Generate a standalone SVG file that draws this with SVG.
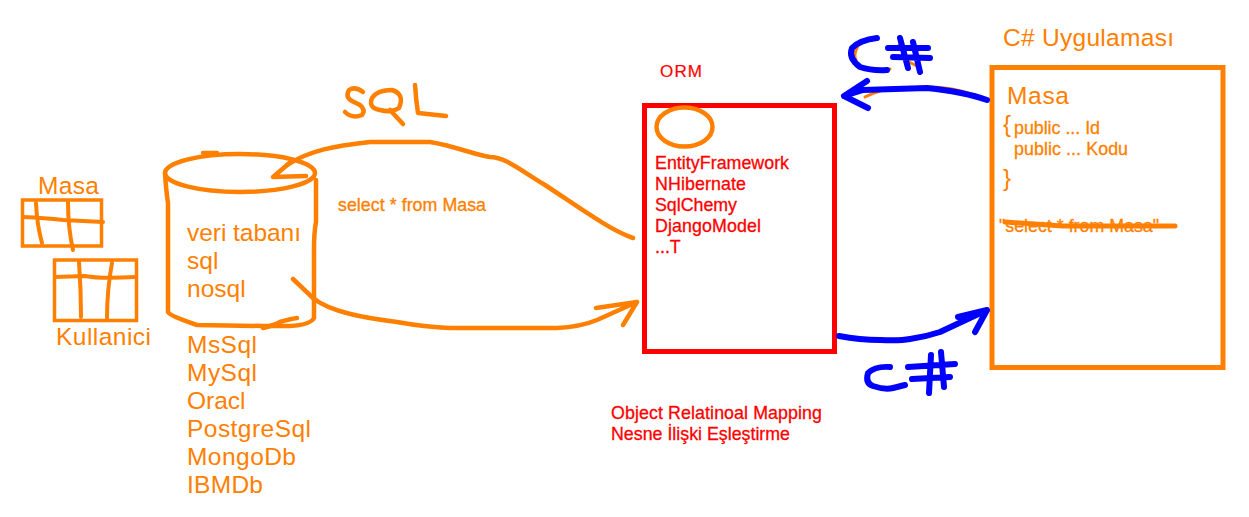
<svg xmlns="http://www.w3.org/2000/svg" width="1249" height="517" viewBox="0 0 1249 517">
<style>
text{font-family:"Liberation Sans",Arial,sans-serif}
.o{fill:#ff8000}.r{fill:#f00}
.l{font-size:24.500px}.s{font-size:17.800px;stroke-width:.3px}.s.o{stroke:#ff8000}.s.r{stroke:#f00}.m{font-size:17px;stroke:#f00;stroke-width:.2px}
.so,.sb{fill:none;stroke-linecap:round;stroke-linejoin:round}
.so{stroke:#ff8000}.sb{stroke:#00f;stroke-width:6}
.t{fill:none;stroke:#ff8000;stroke-width:3.500}
</style>
<rect width="1249" height="517" fill="#fff"/>
<g id="table-masa">
<text class="o l" x="38" y="194" textLength="61">Masa</text>
<rect class="t" x="22.500" y="200" width="79" height="46"/>
<path class="so" stroke-width="4" d="M23 217Q45 218 63 220L103 222M36 203Q37 225 42 243M68 202Q68 228 73 250"/>
</g>
<g id="table-kullanici">
<rect class="t" x="54.500" y="260" width="82" height="60.500"/>
<path class="so" stroke-width="4" d="M55 277L85 276Q100 279 135 277M79 262Q81 290 81 317M112 263Q107 290 107 318"/>
<text class="o l" x="56" y="345" textLength="95">Kullanici</text>
</g>
<g id="database">
<ellipse cx="240" cy="173" rx="75" ry="19" fill="none" stroke="#ff8000" stroke-width="4.500"/>
<path class="so" stroke-width="4.500" d="M203 153L217 153M165 173Q166 190 168 203L168 312Q170 316 197 325L263 326L290 326Q310 325 314 318L314 250Q314 232 316 222L316 180"/>
<path class="so" stroke-width="4.500" d="M263 328Q275 325 280 322Q290 319 297 318"/>
<text class="o l" x="187" y="241" textLength="114">veri tabanı</text>
<text class="o l" x="187" y="269">sql</text>
<text class="o l" x="187" y="297">nosql</text>
<text class="o l" x="187" y="353" textLength="70">MsSql</text>
<text class="o l" x="187" y="381" textLength="70">MySql</text>
<text class="o l" x="187" y="409">Oracl</text>
<text class="o l" x="187" y="437" textLength="124">PostgreSql</text>
<text class="o l" x="187" y="465" textLength="109">MongoDb</text>
<text class="o l" x="187" y="493" textLength="76">IBMDb</text>
</g>
<g id="orm">
<text class="r m" x="660" y="77" textLength="42">ORM</text>
<rect x="644.500" y="105.500" width="190" height="246" fill="#fff" stroke="#f00" stroke-width="5"/>
<ellipse cx="684.500" cy="127" rx="28" ry="19.500" fill="none" stroke="#ff8000" stroke-width="4.500"/>
<text class="r s" x="655" y="169" textLength="134">EntityFramework</text>
<text class="r s" x="655" y="190" textLength="91">NHibernate</text>
<text class="r s" x="655" y="211" textLength="82">SqlChemy</text>
<text class="r s" x="655" y="232" textLength="106">DjangoModel</text>
<text class="r s" x="655" y="253">...T</text>
<text class="r s" x="611" y="419" textLength="211">Object Relatinoal Mapping</text>
<text class="r s" x="611" y="440" textLength="179">Nesne İlişki Eşleştirme</text>
</g>
<g id="csharp-app">
<text class="o l" x="1003" y="46" textLength="171">C# Uygulaması</text>
<rect x="992" y="67.500" width="231" height="300" fill="#fff" stroke="#ff8000" stroke-width="5"/>
<text class="o l" x="1007" y="104" textLength="62">Masa</text>
<text class="o" x="1003" y="132" font-size="24">{</text>
<text class="o s" x="1014" y="134" textLength="86">public ... Id</text>
<text class="o s" x="1014" y="155" textLength="114">public ... Kodu</text>
<text class="o" x="1003" y="186" font-size="24">}</text>
<text class="o s" x="999" y="232" textLength="160">"select * from Masa"</text>
<path class="so" stroke-width="5" d="M1005 222L1063 226L1175 226"/>
</g>
<g id="connectors">
<path class="so" stroke-width="4.500" d="M287 165C310 150 335 146 370 142L430 142C455 146 475 155 490 157C505 157 520 170 545 185C580 208 610 230 633 238"/>
<path class="so" stroke-width="4.500" d="M293 160L273 177L306 176"/>
<path class="so" stroke-width="4.500" d="M293 279L313 298C330 312 365 318 397 322Q425 327 450 328L557 328Q580 327 597 320L637 302M596 308L637 302L623 325"/>
<path class="so" stroke-width="3" d="M930 87Q950 87 972 94M865 97Q873 93 880 91"/>
<path class="sb" d="M987 100Q965 92 927 88L863 90L844 96M867 81L844 96L868 108"/>
<path class="sb" d="M839 336Q860 340 880 340Q900 341 910 339Q925 337 940 332L987 310M958 317L987 310L975 332"/>
</g>
<g id="labels-drawn">
<path class="so" stroke-width="4.500" d="M363 92Q355 86 349 90Q345 97 352 101L360 105Q366 110 362 115Q352 119 345 112"/>
<path class="so" stroke-width="4.500" d="M392 90Q377 90 372 98Q368 108 380 110Q392 113 399 108Q405 94 392 90ZM390 110L403 124M415 85Q416 100 418 113L446 116"/>
<path class="so" stroke-width="3" d="M858 46Q853 55 856 60M878 71L890 69M899 45L918 50M905 60L917 66"/>
<path class="sb" d="M877 38Q860 40 852 48Q848 58 860 67Q872 71 887 70M888 48L928 48M893 57L930 58M900 38L908 68M913 42L920 72"/>
<path class="sb" d="M890 367Q875 366 868 373Q865 383 873 386Q885 390 893 388L905 385M908 367L955 364M912 379L950 377M931 355L929 393M941 352L944 387"/>
</g>
<text class="o s" x="338" y="211" textLength="148">select * from Masa</text>
</svg>
